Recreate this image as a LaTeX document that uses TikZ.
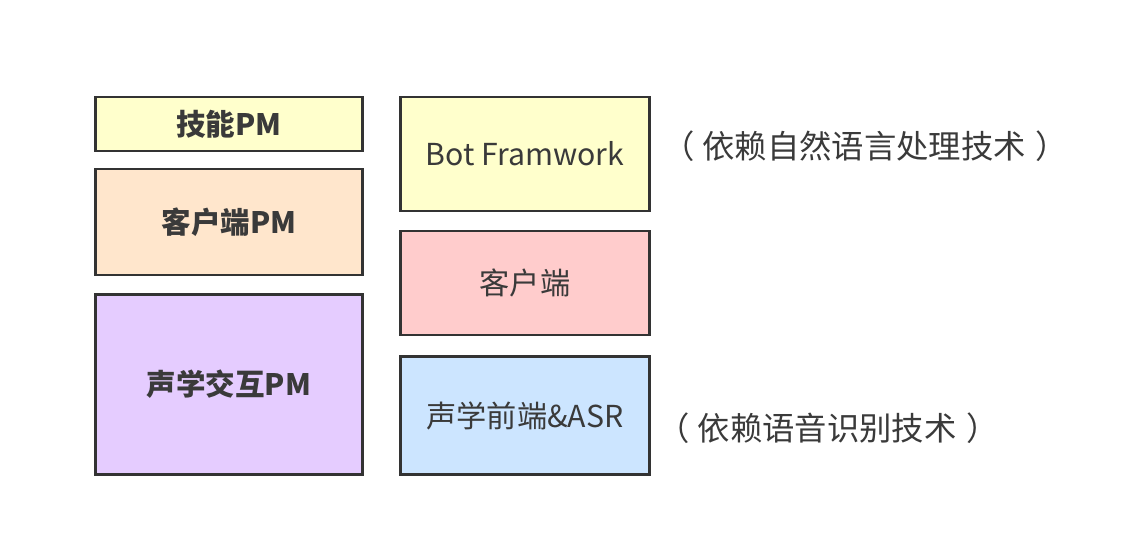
\documentclass[tikz,border=0pt]{standalone}
\usepackage{fontspec}
\setmainfont{Noto Sans CJK SC}
\definecolor{boxline}{HTML}{333333}
\definecolor{textgray}{HTML}{3A3A3A}
\definecolor{skillfill}{HTML}{FFFFCC}
\definecolor{clientfill}{HTML}{FFE6CC}
\definecolor{acousticfill}{HTML}{E5CCFF}
\definecolor{redfill}{HTML}{FFCCCC}
\definecolor{bluefill}{HTML}{CCE5FF}
\begin{document}
\begin{tikzpicture}
  [x=0.025cm,y=-0.025cm,every node/.style={text=textgray,font=\fontsize{21.5}{24}\selectfont}]
  \tikzstyle{box} = [draw=boxline,line width=2.1pt,rectangle,inner sep=0pt]
  \tikzstyle{pmbox} = [box,minimum width=6.65cm,font=\fontsize{21}{24}\selectfont\bfseries]
  \tikzstyle{techbox} = [box,minimum width=6.2cm]
  \tikzstyle{remark} = [font=\fontsize{23}{26}\selectfont]
  \useasboundingbox (0,0) rectangle (1128,540);
  \node[pmbox,fill=skillfill,minimum height=1.35cm] (skill) at (229,124) {技能PM};
  \node[pmbox,fill=clientfill,minimum height=2.65cm] (clientpm) at (229,222) {客户端PM};
  \node[pmbox,fill=acousticfill,minimum height=4.52cm] (acoustpm) at (229,384.5) {声学交互PM};
  \node[techbox,fill=skillfill,minimum height=2.85cm] (bot) at (525,154) {Bot Framwork};
  \node[techbox,fill=redfill,minimum height=2.6cm] (client) at (525,283) {客户端};
  \node[techbox,fill=bluefill,minimum height=2.97cm] (asr) at (525,415.5) {声学前端\&ASR};
  \node[remark] (nlp) at (865,146) {（\hspace{0.25em}依赖自然语言处理技术\hspace{0.3em}）};
  \node[remark] (speech) at (828,428) {（\hspace{0.25em}依赖语音识别技术\hspace{0.3em}）};
\end{tikzpicture}
\end{document}
